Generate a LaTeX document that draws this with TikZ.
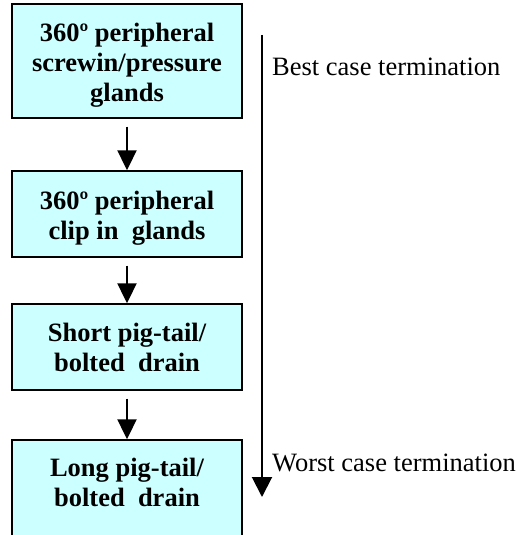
\documentclass[tikz,border=0pt]{standalone}
\usepackage{fontspec}
\setmainfont{Liberation Serif}
\usetikzlibrary{arrows.meta}
\definecolor{boxfill}{HTML}{CCFFFF}
\begin{document}
\begin{tikzpicture}[x=1pt,y=-1pt,
  stage/.style={draw=black,line width=1.4pt,fill=boxfill,
    minimum width=230pt,inner sep=0pt},
  stagetext/.style={align=center,inner sep=0pt,
    font=\bfseries\fontsize{26.5}{30}\selectfont},
  flow/.style={line width=2pt,-{Triangle[length=20pt,width=19pt]},shorten <=8pt},
  label/.style={anchor=west,inner sep=0pt,font=\fontsize{26.5}{30}\selectfont}]
\useasboundingbox (0,0) rectangle (519,535);
\clip (0,0) rectangle (519,535);
% the four stages, best to worst
\node[stage,minimum height=114pt] (s1) at (127,61) {};
\node[stage,minimum height=86pt] (s2) at (127,214) {};
\node[stage,minimum height=86pt] (s3) at (127,347) {};
\node[stage,minimum height=114pt] (s4) at (127,497) {};
\node[stagetext] (t1) at ([yshift=-4pt]s1.center) {360º peripheral\\screwin/pressure\\glands};
\node[stagetext] (t2) at ([yshift=-4pt]s2.center) {360º peripheral\\clip in\ \ glands};
\node[stagetext] (t3) at ([yshift=0pt]s3.center) {Short pig-tail/\\bolted\ \ drain};
\node[stagetext] (t4) at ([yshift=15pt]s4.center) {Long pig-tail/\\bolted\ \ drain};
\draw[flow] (s1) -- (s2);
\draw[flow] (s2) -- (s3);
\draw[flow] (s3) -- (s4);
% quality scale
\coordinate (best) at (262,35);
\coordinate (worst) at (262,497);
\draw[line width=2pt,-{Triangle[length=20pt,width=20pt]}] (best) -- (worst);
\node[label] (tb) at (272,67) {Best case termination};
\node[label] (tw) at (272,463) {Worst case termination};
\end{tikzpicture}
\end{document}
